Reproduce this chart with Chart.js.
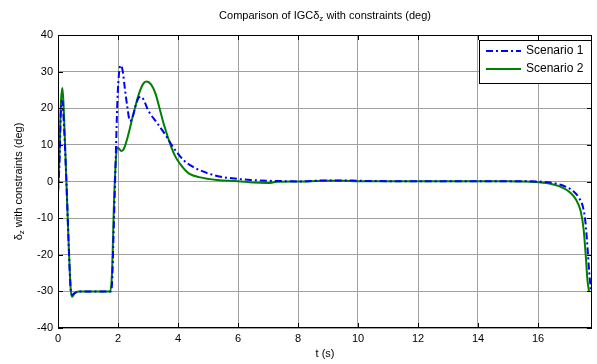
<!DOCTYPE html>
<html>
<head>
<meta charset="utf-8">
<script src="https://cdn.jsdelivr.net/npm/chart.js@4"></script>
<style>
  html, body { margin: 0; padding: 0; background: #fff; }
  canvas { display: block; }
</style>
</head>
<body>
<canvas id="chart" width="597" height="364"></canvas>
<script>
// data
const t1 = [0, 0.05, 0.1, 0.14, 0.2, 0.28, 0.36, 0.42, 0.47, 0.55, 0.7, 1.0, 1.5, 1.76, 1.8, 1.85, 1.92, 1.98, 2.04, 2.1, 2.16, 2.22, 2.3, 2.4, 2.5, 2.6, 2.7, 2.78, 2.9, 3.0, 3.3, 3.6, 3.8, 4.0, 4.2, 4.5, 4.75, 5.3, 6.0, 6.5, 7.0, 7.5, 8, 9, 9.5, 10, 11, 12, 13, 14, 15, 15.5, 16, 16.5, 16.95, 17.17, 17.37, 17.5, 17.58, 17.65, 17.71, 17.76];
const scenario1 = [-3, 5, 20, 22, 15, 0, -18, -29, -31, -30.5, -30, -30, -30, -30, -28, -15, 5, 22, 30, 31.7, 30, 26, 21, 16.5, 18, 21, 23, 23.1, 21.5, 19.5, 16, 12.5, 9.8, 7.6, 5.7, 4, 3, 1.5, 0.7, 0.4, 0.2, 0.1, 0, 0.3, 0.3, 0.2, 0.1, 0.1, 0.1, 0.1, 0.1, 0.1, 0, -0.4, -1.5, -2.6, -4.5, -7, -11, -18, -25, -29.5];

const t2 = [0, 0.05, 0.1, 0.15, 0.2, 0.28, 0.36, 0.42, 0.47, 0.55, 0.7, 1.0, 1.5, 1.74, 1.8, 1.87, 1.93, 1.97, 2.05, 2.12, 2.2, 2.35, 2.5, 2.7, 2.85, 2.96, 3.1, 3.25, 3.4, 3.55, 3.75, 3.9, 4.07, 4.25, 4.4, 4.7, 5.3, 6.0, 6.5, 7.0, 7.3, 8, 9, 9.5, 10, 11, 12, 13, 14, 15, 15.5, 16, 16.45, 16.85, 17.07, 17.27, 17.42, 17.52, 17.59, 17.65, 17.7];
const scenario2 = [-3, 8, 22, 25.5, 18, 0, -18, -29, -31.5, -30.5, -30, -30, -30, -30, -25, -5, 6, 9.3, 8.8, 8.3, 9, 13, 18, 24, 26.8, 27.3, 26.5, 24, 19.5, 15, 10, 7, 4.8, 3, 2, 1.2, 0.4, 0.1, -0.3, -0.4, -0.1, 0, 0.2, 0.2, 0.1, 0.1, 0.1, 0.1, 0.1, 0.1, 0, -0.2, -0.7, -1.8, -3, -5, -8, -13, -20, -27, -30];

const xTicks = [0, 2, 4, 6, 8, 10, 12, 14, 16];
const yTicks = [-40, -30, -20, -10, 0, 10, 20, 30, 40];
const seriesNames = ['Scenario 1', 'Scenario 2'];

const FONT = '"Liberation Sans", Arial, sans-serif';

function toPoints(xs, ys) {
  return xs.map((x, i) => ({ x: x, y: ys[i] }));
}

// draws text with a subscript part, e.g. delta_z
function drawRich(ctx, parts, x, y, align) {
  let total = 0;
  parts.forEach(p => {
    ctx.font = (p.sub ? 8 : 11) + 'px ' + FONT;
    p.w = ctx.measureText(p.text).width;
    total += p.w;
  });
  let cx = align === 'center' ? x - total / 2 : x;
  parts.forEach(p => {
    ctx.font = (p.sub ? 8 : 11) + 'px ' + FONT;
    ctx.fillText(p.text, cx, p.sub ? y + 3 : y);
    cx += p.w;
  });
}

const decor = {
  id: 'decor',
  afterDraw(chart) {
    const ctx = chart.ctx;
    const a = chart.chartArea;
    const xs = chart.scales.x, ys = chart.scales.y;
    ctx.save();

    // frame
    ctx.strokeStyle = '#000';
    ctx.lineWidth = 1;
    ctx.strokeRect(Math.round(a.left) + 0.5, Math.round(a.top) + 0.5,
                   Math.round(a.right - a.left) - 1, Math.round(a.bottom - a.top) - 1);

    // inward tick marks
    ctx.beginPath();
    xTicks.forEach(v => {
      const px = Math.round(xs.getPixelForValue(v)) + 0.5;
      ctx.moveTo(px, a.bottom); ctx.lineTo(px, a.bottom - 5);
      ctx.moveTo(px, a.top); ctx.lineTo(px, a.top + 5);
    });
    yTicks.forEach(v => {
      const py = Math.round(ys.getPixelForValue(v)) + 0.5;
      ctx.moveTo(a.left, py); ctx.lineTo(a.left + 5, py);
      ctx.moveTo(a.right, py); ctx.lineTo(a.right - 5, py);
    });
    ctx.stroke();

    // title
    ctx.fillStyle = '#000';
    ctx.textBaseline = 'middle';
    const mid = (a.left + a.right) / 2;
    drawRich(ctx, [
      { text: 'Comparison of IGC\u03b4' },
      { text: 'z', sub: true },
      { text: ' with constraints (deg)' }
    ], mid, 16, 'center');

    // x title
    ctx.font = '11px ' + FONT;
    ctx.textAlign = 'center';
    ctx.fillText('t (s)', mid, 354);
    ctx.textAlign = 'left';

    // y title
    ctx.save();
    ctx.translate(19, (a.top + a.bottom) / 2);
    ctx.rotate(-Math.PI / 2);
    drawRich(ctx, [
      { text: '\u03b4' },
      { text: 'z', sub: true },
      { text: ' with constraints (deg)' }
    ], 0, 0, 'center');
    ctx.restore();

    // legend
    const lx = 479, ly = 40, lw = 112, lh = 43;
    ctx.fillStyle = '#fff';
    ctx.fillRect(lx, ly, lw, lh);
    ctx.strokeStyle = '#000';
    ctx.strokeRect(lx + 0.5, ly + 0.5, lw, lh);
    chart.data.datasets.forEach((ds, i) => {
      const yy = ly + 11 + i * 18;
      ctx.beginPath();
      ctx.strokeStyle = ds.borderColor;
      ctx.lineWidth = ds.borderWidth;
      ctx.setLineDash(ds.borderDash || []);
      ctx.moveTo(486, yy); ctx.lineTo(521, yy);
      ctx.stroke();
      ctx.setLineDash([]);
      ctx.fillStyle = '#000';
      ctx.font = '12px ' + FONT;
      ctx.textBaseline = 'middle';
      ctx.fillText(ds.label, 526, yy);
    });

    ctx.restore();
  }
};

new Chart(document.getElementById('chart'), {
  type: 'line',
  data: {
    datasets: [
      {
        label: seriesNames[0],
        data: toPoints(t1, scenario1),
        borderColor: '#0000ff',
        borderWidth: 2,
        borderDash: [7, 3, 2, 3],
        pointRadius: 0,
        cubicInterpolationMode: 'monotone',
        fill: false
      },
      {
        label: seriesNames[1],
        data: toPoints(t2, scenario2),
        borderColor: '#008000',
        borderWidth: 2,
        pointRadius: 0,
        cubicInterpolationMode: 'monotone',
        fill: false
      }
    ]
  },
  options: {
    responsive: false,
    animation: false,
    layout: { padding: { left: 0, right: 5, top: 35, bottom: 0 } },
    plugins: {
      legend: { display: false },
      title: { display: false },
      tooltip: { enabled: false }
    },
    scales: {
      x: {
        type: 'linear',
        min: 0,
        max: 17.8,
        afterBuildTicks: s => { s.ticks = xTicks.map(v => ({ value: v })); },
        afterFit: s => { s.height = 36; },
        grid: { color: '#a0a0a0', drawTicks: false },
        border: { display: false },
        ticks: {
          padding: 4,
          maxRotation: 0,
          color: '#000',
          font: { family: FONT, size: 11 }
        }
      },
      y: {
        min: -40,
        max: 40,
        afterBuildTicks: s => { s.ticks = yTicks.map(v => ({ value: v })); },
        afterFit: s => { s.width = 58; },
        grid: { color: '#a0a0a0', drawTicks: false },
        border: { display: false },
        ticks: {
          padding: 5,
          color: '#000',
          font: { family: FONT, size: 11 }
        }
      }
    }
  },
  plugins: [decor]
});
</script>
</body>
</html>
